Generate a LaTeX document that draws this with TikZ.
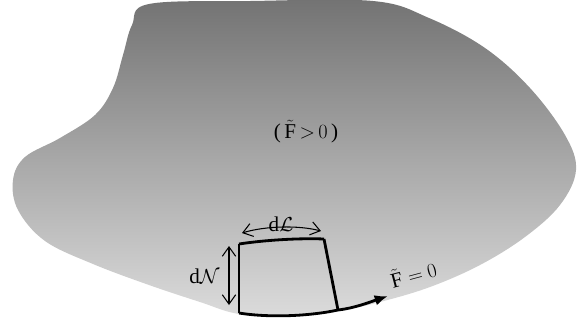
\documentclass[tikz,border=0pt]{standalone}
\usepackage{amsmath}
\usepackage{fontspec}
\setmainfont{Liberation Serif}
\usepackage{tikz}
\usetikzlibrary{arrows.meta}

\tikzset{
  edge/.style={line width=2.4pt},
  dim/.style={line width=0.9pt, {Straight Barb[length=2.8mm,width=4mm]}-{Straight Barb[length=2.8mm,width=4mm]}},
  lbl/.style={inner sep=1pt, font=\fontsize{18}{20}\selectfont}
}

\begin{document}
\begin{tikzpicture}[x=0.03cm, y=-0.03cm]
  \useasboundingbox (0,0) rectangle (581,324);

  % shaded region
  \shade[top color=black!55, bottom color=black!14]
    plot[smooth cycle, tension=0.6] coordinates {
      (149,4) (250,1) (373,1) (429,18) (485,48) (530,88) (565,135)
      (576,170) (560,205) (525,237) (480,265) (430,287) (380,302)
      (338,311) (290,316) (239,314) (200,302) (149,285) (93,264)
      (45,241) (18,210) (13,180) (25,157) (60,138) (95,115)
      (113,88) (123,55) (132,25)};

  \node[lbl] (gtz) at (306,132) {(\,$\tilde{\mathrm{F}}\,{>}\,0$\,)};

  % element
  \coordinate (tl) at (239,244);
  \coordinate (tr) at (324,239);
  \coordinate (br) at (338,310);
  \coordinate (bl) at (239,313);
  \coordinate (tip) at (388,296);
  \draw[edge] (tl) -- (bl);
  \draw[edge] (tr) -- (br);
  \draw[edge] (tl) .. controls (265,240) and (300,238) .. (tr);
  \draw[edge, -{Latex[length=4mm,width=3.2mm]}]
    (bl) .. controls (270,318) and (310,316) .. (br)
         .. controls (355,308) and (370,302) .. (tip);
  \node[lbl, rotate=15, anchor=south west] (eqz) at (392,290) {$\tilde{\mathrm{F}}=0$};

  % dimensions
  \coordinate (nt) at (229,246);
  \coordinate (nb) at (229,305);
  \draw[dim] (nt) -- (nb);
  \node[lbl, left=1pt] (dN) at (222,276) {$\mathrm{d}\mathcal{N}$};

  \coordinate (ll) at (242,233);
  \coordinate (lr) at (321,231);
  \draw[dim] (ll) .. controls (265,226) and (298,225) .. (lr);
  \node[lbl, anchor=south] (dL) at (281,233) {$\mathrm{d}\mathcal{L}$};
\end{tikzpicture}
\end{document}
